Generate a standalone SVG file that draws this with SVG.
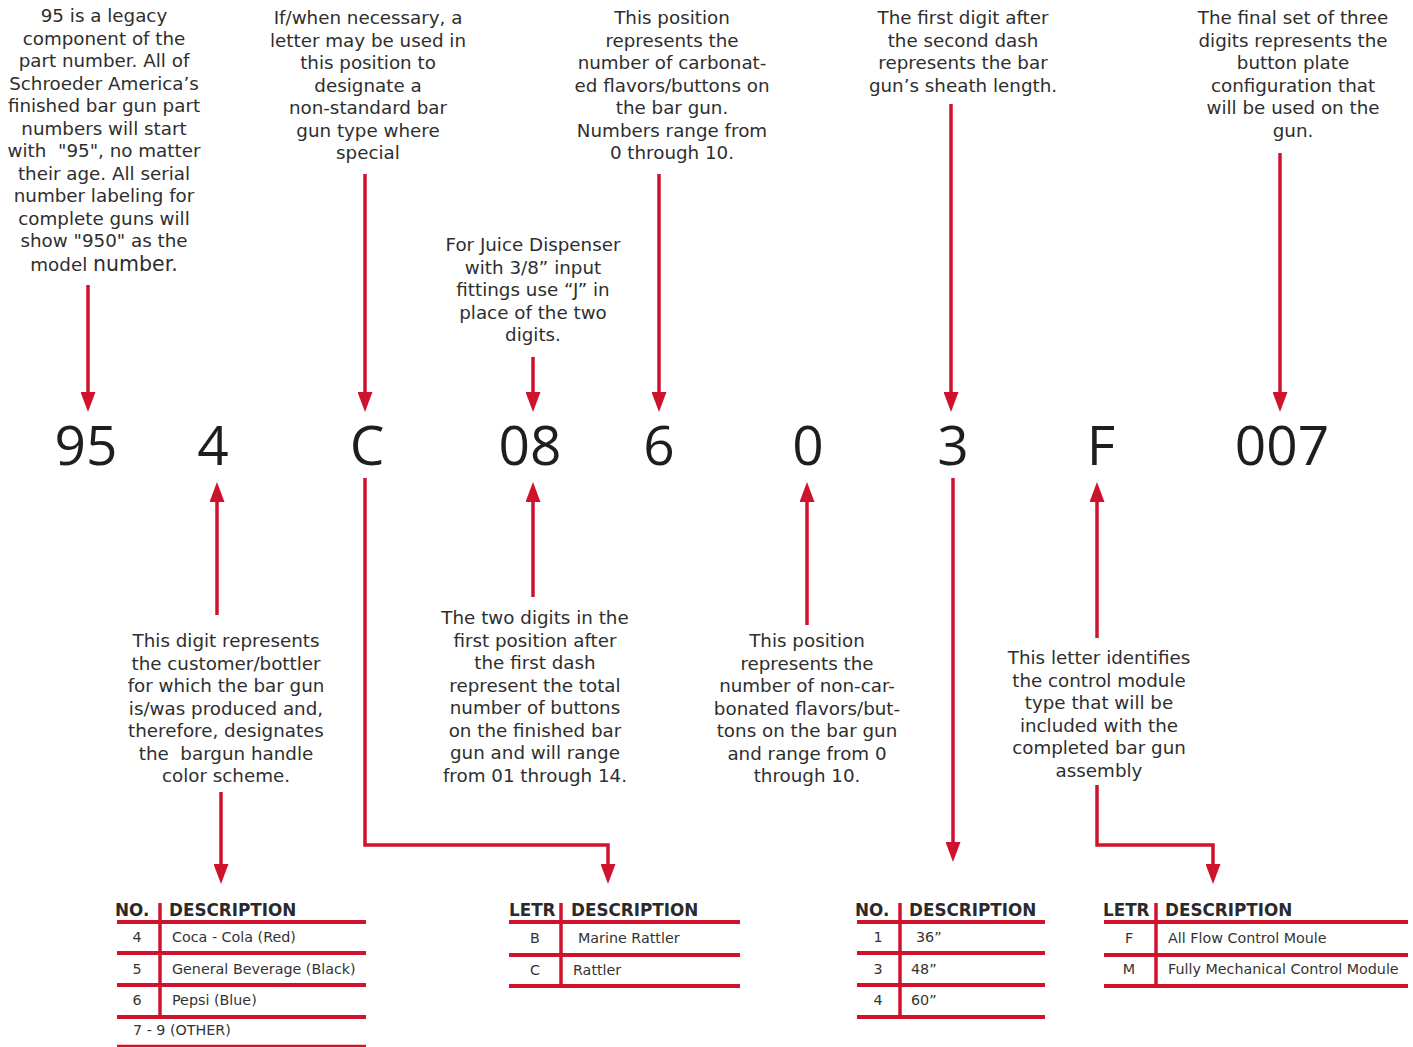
<svg xmlns="http://www.w3.org/2000/svg" width="1413" height="1047" viewBox="0 0 1413 1047">
<style>
.t{font-family:"DejaVu Sans","Open Sans",sans-serif;font-size:18.3px;fill:#2e2e2e;text-anchor:middle}
.big{font-family:"Open Sans","Noto Sans",sans-serif;font-size:55px;font-weight:500;fill:#1e1e1e;text-anchor:middle}
.hd{font-family:"DejaVu Sans","Open Sans",sans-serif;font-size:16.8px;font-weight:700;fill:#2a2a2a}
.cell{font-family:"DejaVu Sans","Open Sans",sans-serif;font-size:14.3px;fill:#333}
.c{text-anchor:middle}
.ln{stroke:#d0132d;stroke-width:3.5;fill:none}
.rule{stroke:#d0132d;stroke-width:4;fill:none}
.thin{stroke:#d0132d;stroke-width:2.5;fill:none}
.bg{fill:#fff}
</style>
<defs>
<marker id="ah" markerUnits="userSpaceOnUse" markerWidth="20" markerHeight="15" refX="10" refY="7.5" orient="auto">
<path d="M0,0 L20,7.5 L0,15 z" fill="#d0132d"/>
</marker>
</defs>
<rect class="bg" x="0" y="0" width="1413" height="1047"/>

<g id="connectors">
<line class="ln" x1="88" y1="285" x2="88" y2="402" marker-end="url(#ah)"/>
<line class="ln" x1="365" y1="174" x2="365" y2="402" marker-end="url(#ah)"/>
<line class="ln" x1="533" y1="357" x2="533" y2="402" marker-end="url(#ah)"/>
<line class="ln" x1="659" y1="174" x2="659" y2="402" marker-end="url(#ah)"/>
<line class="ln" x1="951" y1="104" x2="951" y2="402" marker-end="url(#ah)"/>
<line class="ln" x1="1280" y1="153" x2="1280" y2="402" marker-end="url(#ah)"/>
<line class="ln" x1="217" y1="615" x2="217" y2="492" marker-end="url(#ah)"/>
<line class="ln" x1="221" y1="792" x2="221" y2="874" marker-end="url(#ah)"/>
<polyline class="ln" points="365,478 365,845 608,845 608,874" marker-end="url(#ah)"/>
<line class="ln" x1="533" y1="597" x2="533" y2="492" marker-end="url(#ah)"/>
<line class="ln" x1="807" y1="625" x2="807" y2="492" marker-end="url(#ah)"/>
<line class="ln" x1="953" y1="478" x2="953" y2="852" marker-end="url(#ah)"/>
<line class="ln" x1="1097" y1="638" x2="1097" y2="492" marker-end="url(#ah)"/>
<polyline class="ln" points="1097,785 1097,845 1213,845 1213,874" marker-end="url(#ah)"/>
</g>

<g id="note-95">
<text class="t" xml:space="preserve"><tspan x="104" y="22">95 is a legacy</tspan><tspan x="104" y="44.5">component of the</tspan><tspan x="104" y="67">part number. All of</tspan><tspan x="104" y="89.5">Schroeder America’s</tspan><tspan x="104" y="112">finished bar gun part</tspan><tspan x="104" y="134.5">numbers will start</tspan><tspan x="104" y="157">with  "95", no matter</tspan><tspan x="104" y="179.5">their age. All serial</tspan><tspan x="104" y="202">number labeling for</tspan><tspan x="104" y="224.5">complete guns will</tspan><tspan x="104" y="247">show "950" as the</tspan><tspan x="104" y="271">model <tspan style="font-size:20.5px">number.</tspan></tspan></text>
</g>
<g id="note-letter">
<text class="t"><tspan x="368" y="24">If/when necessary, a</tspan><tspan x="368" y="46.5">letter may be used in</tspan><tspan x="368" y="69">this position to</tspan><tspan x="368" y="91.5">designate a</tspan><tspan x="368" y="114">non-standard bar</tspan><tspan x="368" y="136.5">gun type where</tspan><tspan x="368" y="159">special</tspan></text>
</g>
<g id="note-juice">
<text class="t"><tspan x="533" y="251">For Juice Dispenser</tspan><tspan x="533" y="273.5">with 3/8” input</tspan><tspan x="533" y="296">fittings use “J” in</tspan><tspan x="533" y="318.5">place of the two</tspan><tspan x="533" y="341">digits.</tspan></text>
</g>
<g id="note-carbonated">
<text class="t"><tspan x="672" y="24">This position</tspan><tspan x="672" y="46.5">represents the</tspan><tspan x="672" y="69">number of carbonat-</tspan><tspan x="672" y="91.5">ed flavors/buttons on</tspan><tspan x="672" y="114">the bar gun.</tspan><tspan x="672" y="136.5">Numbers range from</tspan><tspan x="672" y="159">0 through 10.</tspan></text>
</g>
<g id="note-sheath">
<text class="t"><tspan x="963" y="24">The first digit after</tspan><tspan x="963" y="46.5">the second dash</tspan><tspan x="963" y="69">represents the bar</tspan><tspan x="963" y="91.5">gun’s sheath length.</tspan></text>
</g>
<g id="note-plate">
<text class="t"><tspan x="1293" y="24">The final set of three</tspan><tspan x="1293" y="46.5">digits represents the</tspan><tspan x="1293" y="69">button plate</tspan><tspan x="1293" y="91.5">configuration that</tspan><tspan x="1293" y="114">will be used on the</tspan><tspan x="1293" y="136.5">gun.</tspan></text>
</g>

<g id="part-number">
<text class="big" x="86" y="465">95</text>
<text class="big" x="213" y="465">4</text>
<text class="big" x="367" y="465">C</text>
<text class="big" x="530" y="465">08</text>
<text class="big" x="659" y="465">6</text>
<text class="big" x="808" y="465">0</text>
<text class="big" x="953" y="465">3</text>
<text class="big" x="1101" y="465">F</text>
<text class="big" x="1282" y="465">007</text>
</g>

<g id="note-customer">
<text class="t" xml:space="preserve"><tspan x="226" y="647">This digit represents</tspan><tspan x="226" y="669.5">the customer/bottler</tspan><tspan x="226" y="692">for which the bar gun</tspan><tspan x="226" y="714.5">is/was produced and,</tspan><tspan x="226" y="737">therefore, designates</tspan><tspan x="226" y="759.5">the  bargun handle</tspan><tspan x="226" y="782">color scheme.</tspan></text>
</g>
<g id="note-buttons">
<text class="t"><tspan x="535" y="624">The two digits in the</tspan><tspan x="535" y="646.5">first position after</tspan><tspan x="535" y="669">the first dash</tspan><tspan x="535" y="691.5">represent the total</tspan><tspan x="535" y="714">number of buttons</tspan><tspan x="535" y="736.5">on the finished bar</tspan><tspan x="535" y="759">gun and will range</tspan><tspan x="535" y="781.5">from 01 through 14.</tspan></text>
</g>
<g id="note-noncarbonated">
<text class="t"><tspan x="807" y="647">This position</tspan><tspan x="807" y="669.5">represents the</tspan><tspan x="807" y="692">number of non-car-</tspan><tspan x="807" y="714.5">bonated flavors/but-</tspan><tspan x="807" y="737">tons on the bar gun</tspan><tspan x="807" y="759.5">and range from 0</tspan><tspan x="807" y="782">through 10.</tspan></text>
</g>
<g id="note-control">
<text class="t"><tspan x="1099" y="664">This letter identifies</tspan><tspan x="1099" y="686.5">the control module</tspan><tspan x="1099" y="709">type that will be</tspan><tspan x="1099" y="731.5">included with the</tspan><tspan x="1099" y="754">completed bar gun</tspan><tspan x="1099" y="776.5">assembly</tspan></text>
</g>

<g id="table-customer">
<text class="hd" x="115" y="916">NO.</text>
<text class="hd" x="169" y="916">DESCRIPTION</text>
<line class="ln" x1="160" y1="903" x2="160" y2="1017"/>
<line class="rule" x1="117" y1="922" x2="366" y2="922"/>
<line class="rule" x1="117" y1="953" x2="366" y2="953"/>
<line class="rule" x1="117" y1="985" x2="366" y2="985"/>
<line class="rule" x1="117" y1="1017" x2="366" y2="1017"/>
<line class="thin" x1="117" y1="1046" x2="366" y2="1046"/>
<text class="cell c" x="137" y="942">4</text><text class="cell" x="172" y="942">Coca - Cola (Red)</text>
<text class="cell c" x="137" y="974">5</text><text class="cell" x="172" y="974">General Beverage (Black)</text>
<text class="cell c" x="137" y="1005">6</text><text class="cell" x="172" y="1005">Pepsi (Blue)</text>
<text class="cell" x="133" y="1035">7 - 9 (OTHER)</text>
</g>

<g id="table-type">
<text class="hd" x="509" y="916">LETR</text>
<text class="hd" x="571" y="916">DESCRIPTION</text>
<line class="ln" x1="561" y1="903" x2="561" y2="987"/>
<line class="rule" x1="509" y1="922" x2="740" y2="922"/>
<line class="rule" x1="509" y1="955" x2="740" y2="955"/>
<line class="rule" x1="509" y1="986" x2="740" y2="986"/>
<text class="cell c" x="535" y="943">B</text><text class="cell" x="578" y="943">Marine Rattler</text>
<text class="cell c" x="535" y="975">C</text><text class="cell" x="573" y="975">Rattler</text>
</g>

<g id="table-sheath">
<text class="hd" x="855" y="916">NO.</text>
<text class="hd" x="909" y="916">DESCRIPTION</text>
<line class="ln" x1="900" y1="903" x2="900" y2="1017"/>
<line class="rule" x1="857" y1="922" x2="1045" y2="922"/>
<line class="rule" x1="857" y1="953" x2="1045" y2="953"/>
<line class="rule" x1="857" y1="985" x2="1045" y2="985"/>
<line class="rule" x1="857" y1="1017" x2="1045" y2="1017"/>
<text class="cell c" x="878" y="942">1</text><text class="cell" x="916" y="942">36”</text>
<text class="cell c" x="878" y="974">3</text><text class="cell" x="911" y="974">48”</text>
<text class="cell c" x="878" y="1005">4</text><text class="cell" x="911" y="1005">60”</text>
</g>

<g id="table-control">
<text class="hd" x="1103" y="916">LETR</text>
<text class="hd" x="1165" y="916">DESCRIPTION</text>
<line class="ln" x1="1156" y1="903" x2="1156" y2="987"/>
<line class="rule" x1="1104" y1="922" x2="1408" y2="922"/>
<line class="rule" x1="1104" y1="955" x2="1408" y2="955"/>
<line class="rule" x1="1104" y1="986" x2="1408" y2="986"/>
<text class="cell c" x="1129" y="943">F</text><text class="cell" x="1168" y="943">All Flow Control Moule</text>
<text class="cell c" x="1129" y="974">M</text><text class="cell" x="1168" y="974">Fully Mechanical Control Module</text>
</g>
</svg>
